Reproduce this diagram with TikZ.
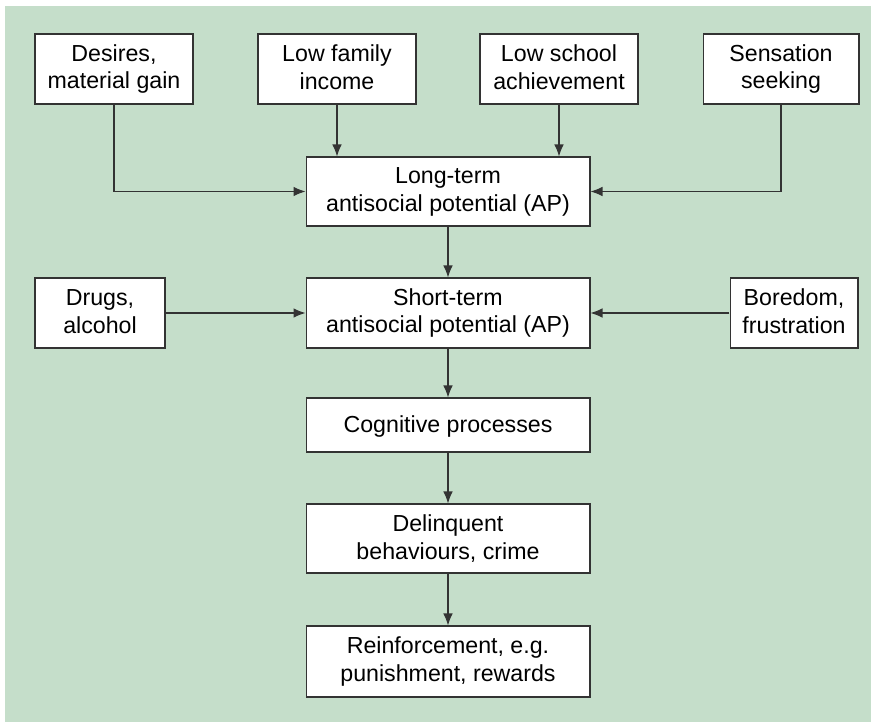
\documentclass[tikz,border=0pt]{standalone}
\usepackage{fontspec}
\setmainfont{Liberation Sans}
\usetikzlibrary{arrows.meta}
\definecolor{bggreen}{HTML}{C5DECA}
\definecolor{boxline}{HTML}{333333}
\newcommand{\boxstrut}{\rule[-2pt]{0pt}{13.5pt}}
\tikzset{
  box/.style={draw=boxline, fill=white, line width=0.6pt, align=center,
    inner sep=0pt, font=\fontsize{13.2}{15.9}\selectfont,
    execute at begin node=\boxstrut, execute at end node=\boxstrut},
  link/.style={draw=boxline, line width=0.6pt, -{Latex[length=2.4mm,width=1.9mm]}}
}
\begin{document}
\begin{tikzpicture}[x=0.02cm, y=-0.02cm]
    \useasboundingbox (0,0) rectangle (871,722);
    \fill[bggreen] (5,6) rectangle (871,722);
    % top row
    \node[box, minimum width=3.16cm, minimum height=1.4cm] (desires) at (114,69) {Desires,\\material gain};
    \node[box, minimum width=3.16cm, minimum height=1.4cm] (income) at (337,69) {Low family\\income};
    \node[box, minimum width=3.16cm, minimum height=1.4cm] (school) at (559,69) {Low school\\achievement};
    \node[box, minimum width=3.12cm, minimum height=1.4cm] (sensation) at (781,69) {Sensation\\seeking};
    % middle column
    \node[box, minimum width=5.68cm, minimum height=1.38cm] (longterm) at (448,191.5) {Long-term\\antisocial potential (AP)};
    \node[box, minimum width=5.68cm, minimum height=1.4cm] (shortterm) at (448,313) {Short-term\\antisocial potential (AP)};
    \node[box, minimum width=2.6cm, minimum height=1.4cm] (drugs) at (100,313) {Drugs,\\alcohol};
    \node[box, minimum width=2.56cm, minimum height=1.4cm] (boredom) at (794,313) {Boredom,\\frustration};
    \node[box, minimum width=5.68cm, minimum height=1.08cm] (cognitive) at (448,425) {Cognitive processes};
    \node[box, minimum width=5.68cm, minimum height=1.38cm] (delinquent) at (448,538.5) {Delinquent\\behaviours, crime};
    \node[box, minimum width=5.68cm, minimum height=1.42cm] (reinforce) at (448,661.5) {Reinforcement, e.g.\\punishment, rewards};
    % connectors
    \draw[link] (desires.south) |- (longterm.west);
    \draw[link] (sensation.south) |- (longterm.east);
    \draw[link] (income.south) -- (income.south |- longterm.north);
    \draw[link] (school.south) -- (school.south |- longterm.north);
    \draw[link] (longterm) -- (shortterm);
    \draw[link] (drugs) -- (shortterm);
    \draw[link] (boredom) -- (shortterm);
    \draw[link] (shortterm) -- (cognitive);
    \draw[link] (cognitive) -- (delinquent);
    \draw[link] (delinquent) -- (reinforce);
\end{tikzpicture}
\end{document}
